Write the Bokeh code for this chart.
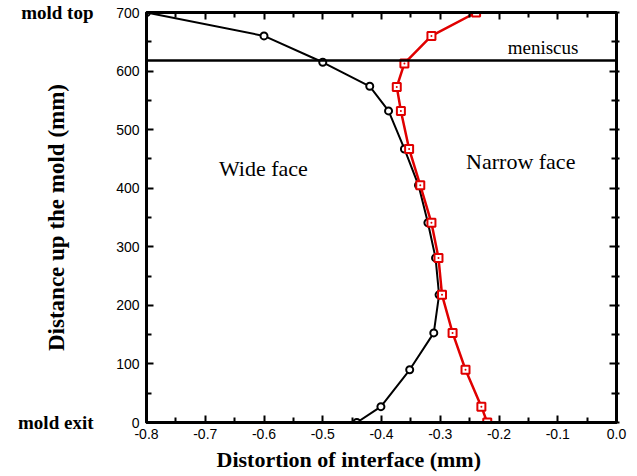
from bokeh.plotting import figure
from bokeh.models import (Range1d, LinearAxis, FixedTicker, PrintfTickFormatter,
                          Span, Label, Title, CustomLabelingPolicy)
from bokeh.embed import file_html
from bokeh.resources import INLINE

# ---- data ----
wide_x = [-0.800, -0.600, -0.500, -0.420, -0.388, -0.361, -0.337, -0.321,
          -0.308, -0.302, -0.311, -0.352, -0.401, -0.442]
wide_y = [700, 660, 615, 574, 532, 467, 405, 341, 281, 218, 153, 90, 27, 0]

narrow_x = [-0.239, -0.315, -0.361, -0.374, -0.367, -0.353, -0.334, -0.315,
            -0.303, -0.297, -0.279, -0.257, -0.230, -0.220]
narrow_y = [700, 660, 613, 573, 532, 467, 405, 341, 281, 218, 153, 90, 27, 0]

meniscus_level = 618

x_major = [-0.8, -0.7, -0.6, -0.5, -0.4, -0.3, -0.2, -0.1, 0.0]
x_minor = [-0.75, -0.65, -0.55, -0.45, -0.35, -0.25, -0.15, -0.05]
y_major = [0, 100, 200, 300, 400, 500, 600, 700]
y_minor = [50, 150, 250, 350, 450, 550, 650]

mold_ticks = [0, 700]
mold_labels = {0: "mold exit", 700: "mold top"}

x_title = "Distortion of interface (mm)"
y_title = "Distance up the mold (mm)"

TICK_FONT = "Liberation Sans"
SERIF = "Liberation Serif"

p = figure(width=637, height=476,
           x_range=Range1d(-0.8, 0.0), y_range=Range1d(0, 700),
           output_backend="svg", toolbar_location=None,
           min_border_left=146, min_border_right=21,
           min_border_top=12, min_border_bottom=54)

p.xgrid.visible = False
p.ygrid.visible = False
p.outline_line_color = "black"
p.outline_line_width = 3
p.background_fill_color = "white"
p.border_fill_color = "white"

no_labels = CustomLabelingPolicy(code="""
for (const i of indices)
  indices.unset(i)
""")


def style_axis(ax, show_labels, tick_out=0):
    ax.axis_line_width = 3
    ax.axis_line_color = "black"
    ax.major_tick_in = 7
    ax.major_tick_out = tick_out
    ax.minor_tick_in = 5
    ax.minor_tick_out = tick_out
    ax.major_tick_line_width = 2
    ax.minor_tick_line_width = 2
    ax.major_tick_line_color = "black"
    ax.minor_tick_line_color = "black"
    ax.major_label_text_font = TICK_FONT
    ax.major_label_text_color = "black"
    if show_labels:
        ax.major_label_text_font_size = "14px"
    else:
        ax.major_label_text_font_size = "1px"
        ax.major_label_policy = no_labels
        ax.major_label_standoff = 0


xa = p.xaxis[0]
xa.ticker = FixedTicker(ticks=x_major, minor_ticks=x_minor)
xa.formatter = PrintfTickFormatter(format="%.1f")
style_axis(xa, True)
xa.major_label_standoff = 6

ya = p.yaxis[0]
ya.ticker = FixedTicker(ticks=y_major, minor_ticks=y_minor)
style_axis(ya, True)
ya.major_label_standoff = 7
ya.axis_label = y_title
ya.axis_label_text_font = SERIF
ya.axis_label_text_font_style = "bold"
ya.axis_label_text_font_size = "23px"
ya.axis_label_text_color = "black"
ya.axis_label_standoff = 44

# outer left axis carrying the "mold top" / "mold exit" labels
mold_axis = LinearAxis(ticker=FixedTicker(ticks=mold_ticks, minor_ticks=[]))
mold_axis.major_label_overrides = mold_labels
mold_axis.axis_line_color = None
mold_axis.major_tick_line_color = None
mold_axis.minor_tick_line_color = None
mold_axis.major_tick_in = 0
mold_axis.major_tick_out = 0
mold_axis.minor_tick_in = 0
mold_axis.minor_tick_out = 0
mold_axis.major_label_standoff = -52
mold_axis.major_label_text_font = SERIF
mold_axis.major_label_text_font_style = "bold"
mold_axis.major_label_text_font_size = "19px"
mold_axis.major_label_text_color = "black"
p.add_layout(mold_axis, "left")

top = LinearAxis(ticker=FixedTicker(ticks=x_major, minor_ticks=x_minor))
style_axis(top, False)
p.add_layout(top, "above")

right = LinearAxis(ticker=FixedTicker(ticks=y_major, minor_ticks=y_minor))
style_axis(right, False, tick_out=3)
p.add_layout(right, "right")

# x-axis title, placed as a title panel below the axis
p.add_layout(Title(text=x_title, align="left", offset=70, standoff=6,
                   text_font=SERIF, text_font_style="bold",
                   text_font_size="22px", text_color="black"), "below")

# meniscus line
p.add_layout(Span(location=meniscus_level, dimension="width",
                  line_color="black", line_width=2.5))

# wide face (black)
p.line(wide_x, wide_y, line_color="black", line_width=2)
p.scatter(wide_x, wide_y, marker="circle", size=7, line_color="black",
          line_width=2, fill_color="white")

# narrow face (red)
p.line(narrow_x, narrow_y, line_color="#e00000", line_width=2.5)
p.scatter(narrow_x, narrow_y, marker="square_dot", size=8,
          line_color="#e00000", line_width=2, fill_color="white")

# annotations inside the frame
p.add_layout(Label(x=-0.601, y=433, text="Wide face", text_align="center",
                   text_baseline="middle", text_font=SERIF,
                   text_font_size="22px", text_color="black"))
p.add_layout(Label(x=-0.163, y=446, text="Narrow face", text_align="center",
                   text_baseline="middle", text_font=SERIF,
                   text_font_size="22px", text_color="black"))
p.add_layout(Label(x=-0.125, y=641, text="meniscus", text_align="center",
                   text_baseline="middle", text_font=SERIF,
                   text_font_size="19px", text_color="black"))

open("out.html", "w").write(file_html(p, INLINE))
